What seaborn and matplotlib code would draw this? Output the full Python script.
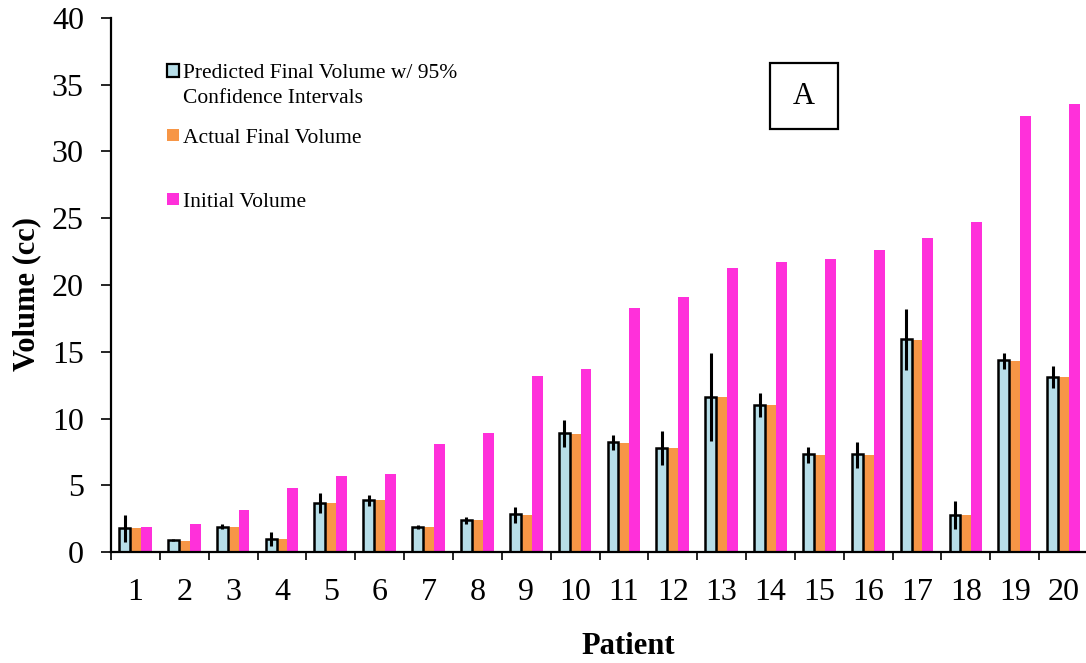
import numpy as np
import pandas as pd
import matplotlib
matplotlib.use("Agg")
import matplotlib.pyplot as plt
from matplotlib.patches import Rectangle
import seaborn as sns

# ---- data ---------------------------------------------------------------
patients = [str(i) for i in range(1, 21)]
predicted = [1.82, 0.90, 1.90, 1.00, 3.70, 3.92, 1.90, 2.42, 2.82, 8.91,
             8.21, 7.81, 11.63, 11.01, 7.34, 7.34, 15.96, 2.80, 14.36, 13.13]
ci_low = [0.77, 0.80, 1.70, 0.45, 2.90, 3.45, 1.75, 2.10, 2.15, 7.89,
          7.64, 6.52, 8.31, 10.09, 6.69, 6.32, 13.63, 1.70, 13.73, 12.26]
ci_high = [2.77, 1.00, 2.12, 1.50, 4.40, 4.30, 2.05, 2.62, 3.40, 9.91,
           8.74, 9.06, 14.88, 11.89, 7.89, 8.26, 18.18, 3.84, 14.88, 13.93]
actual = [1.77, 0.82, 1.87, 0.95, 3.65, 3.90, 1.87, 2.37, 2.77, 8.86,
          8.16, 7.77, 11.59, 10.99, 7.29, 7.29, 15.90, 2.75, 14.31, 13.09]
initial = [1.87, 2.07, 3.17, 4.77, 5.67, 5.87, 8.09, 8.89, 13.18, 13.71,
           18.30, 19.10, 21.30, 21.70, 21.93, 22.62, 23.52, 24.72, 32.66, 33.56]

series_names = ["Predicted", "Actual", "Initial"]
legend_labels = ["Predicted Final Volume w/ 95%\nConfidence Intervals",
                 "Actual Final Volume", "Initial Volume"]
colors = {"Predicted": "#B7DEE8", "Actual": "#F79646", "Initial": "#FF30DA"}

df = pd.DataFrame({
    "Patient": patients * 3,
    "Series": np.repeat(series_names, len(patients)),
    "Volume": predicted + actual + initial,
})

# ---- figure -------------------------------------------------------------
sns.set_style("white")
plt.rcParams["font.family"] = ["Liberation Serif", "DejaVu Serif"]

W, H = 1086, 663
fig = plt.figure(figsize=(W / 100, H / 100), dpi=100)
ax = fig.add_axes([111 / W, 1 - 552 / H, (1088 - 111) / W, (552 - 18) / H])


def fx(px):
    return px / W


def fy(py):
    return 1 - py / H


sns.barplot(data=df, x="Patient", y="Volume", hue="Series",
            hue_order=series_names, order=patients, palette=colors,
            width=0.67, saturation=1, errorbar=None, legend=False,
            linewidth=0, ax=ax)

# black outline on predicted bars
for bar in ax.containers[0]:
    bar.set_edgecolor("black")
    bar.set_linewidth(1.8)
    bar.set_zorder(2)

# asymmetric 95% confidence intervals on the predicted bars
xs = [b.get_x() + b.get_width() / 2 for b in ax.containers[0]]
pred = np.array(predicted)
yerr = np.vstack([pred - np.array(ci_low), np.array(ci_high) - pred])
ax.errorbar(xs, pred, yerr=yerr, fmt="none", ecolor="black",
            elinewidth=2.2, capsize=0, zorder=3)

# ---- axes styling -------------------------------------------------------
ax.set_ylim(0, 40)
ax.set_yticks(np.arange(0, 41, 5))
ax.set_xlim(-0.5, 19.5)
ax.set_xticks(range(len(patients)))
ax.set_xticklabels(patients)
ax.set_xticks(np.arange(-0.5, 20, 1), minor=True)

for side in ("top", "right"):
    ax.spines[side].set_visible(False)
for side in ("left", "bottom"):
    ax.spines[side].set_linewidth(1.6)
    ax.spines[side].set_color("black")

ax.tick_params(axis="x", which="major", length=0, pad=19, labelsize=23,
               colors="black")
ax.tick_params(axis="x", which="minor", length=6, width=1.2, direction="out",
               color="black", bottom=True)
ax.tick_params(axis="y", which="major", length=7.5, width=1.2,
               direction="out", pad=12, labelsize=23, colors="black",
               left=True)
ax.grid(False)

ax.set_xlabel("Patient", fontsize=22, fontweight="bold", labelpad=18,
              color="black", x=0.529)
ax.set_ylabel("Volume (cc)", fontsize=22, fontweight="bold", labelpad=8,
              color="black", y=0.483)

# ---- legend -------------------------------------------------------------
legend_boxes = [(64, 77), (129, 141), (193, 205)]
legend_text_y = [(78.5, 103.0), (142.7,), (206.7,)]
for name, label, (top, bottom), ys in zip(series_names, legend_labels,
                                           legend_boxes, legend_text_y):
    is_pred = name == "Predicted"
    fig.add_artist(Rectangle((fx(167), fy(bottom)), fx(179) - fx(167),
                             fy(top) - fy(bottom), transform=fig.transFigure,
                             facecolor=colors[name],
                             edgecolor="black" if is_pred else "none",
                             linewidth=1.6 if is_pred else 0))
    for line, yb in zip(label.split("\n"), ys):
        fig.text(fx(183), fy(yb), line, fontsize=15.5, va="baseline",
                 ha="left", color="black")

# ---- panel tag ----------------------------------------------------------
fig.add_artist(Rectangle((fx(770), fy(129)), fx(838) - fx(770),
                         fy(63) - fy(129), transform=fig.transFigure,
                         facecolor="white", edgecolor="black", linewidth=1.6))
fig.text(fx(804), fy(104), "A", fontsize=22, ha="center", va="baseline",
         color="black")

fig.savefig("out.png", dpi=100)
